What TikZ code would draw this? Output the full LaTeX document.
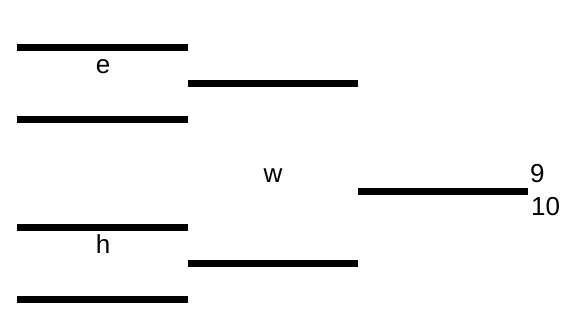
\documentclass[tikz,border=0pt]{standalone}
\usepackage{fontspec}
\setmainfont{Liberation Sans}
\begin{document}
\begin{tikzpicture}[x=1pt,y=-1pt,
  bar/.style={line width=7pt},
  lbl/.style={inner sep=0pt,font=\fontsize{26}{26}\selectfont}]
\useasboundingbox (0,0) rectangle (573,327);
% left column
\draw[bar] (17,47) -- (188,47);
\draw[bar] (17,119) -- (188,119);
\draw[bar] (17,227) -- (188,227);
\draw[bar] (17,299) -- (188,299);
% middle column
\draw[bar] (188,83) -- (358,83);
\draw[bar] (188,263) -- (358,263);
% right
\draw[bar] (358,191) -- (528,191);
% labels
\node[lbl,anchor=base] (e) at (103,73) {e};
\node[lbl,anchor=base] (h) at (103,253) {h};
\node[lbl,anchor=base] (w) at (273,182) {w};
\node[lbl,anchor=base west] (n9) at (530,182) {9};
\node[lbl,anchor=base west] (n10) at (531,215) {10};
\end{tikzpicture}
\end{document}
